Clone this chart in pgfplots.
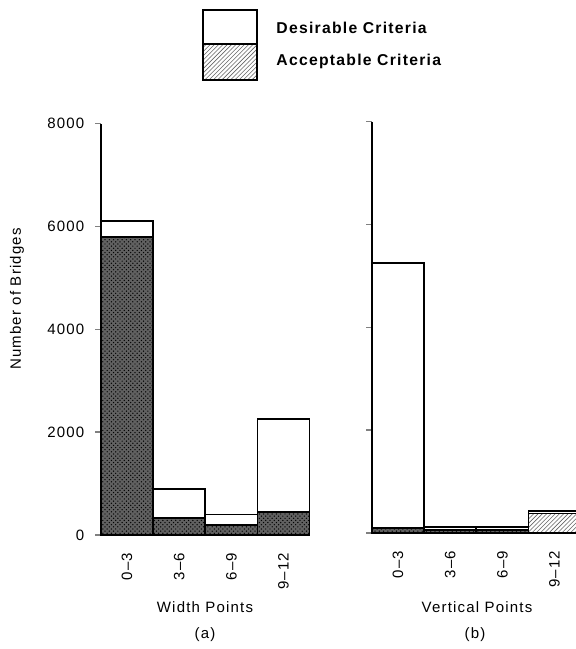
\documentclass[border=0pt]{standalone}
\usepackage{fontspec}
\setmainfont{Liberation Sans}[LetterSpace=8]
\usepackage{pgfplots}
\pgfplotsset{compat=1.18}
\usetikzlibrary{patterns}
\pgfplotsset{
  panel/.style={
    scale only axis, anchor=south west,
    width=146pt, height=288pt,
    xmin=0, xmax=4, ymin=0, ymax=8000,
    axis lines*=left,
    x axis line style={draw=none},
    axis line style={line width=1pt},
    ytick={0,2000,4000,6000,8000},
    tick align=outside,
    major tick length=4.2pt,
    ytick style={line width=0.9pt},
    xtick={0.5,1.5,2.5,3.5},
    xticklabels={0--3,3--6,6--9,9--12},
    x tick style={draw=none},
    xticklabel style={rotate=90, anchor=east, inner sep=0pt},
    xticklabel shift=8pt,
    tick label style={font=\fontsize{10.5}{12}\selectfont},
    /pgf/number format/assume math mode=true,
    /pgf/number format/1000 sep={},
    yticklabel style={xshift=-4pt},
    clip=false,
  },
  des/.style={ybar, bar width=1, bar shift=0pt, fill=white, draw=black, line width=1.2pt},
  accdark/.style={ybar, bar width=1, bar shift=0pt, fill=black!62, draw=black, line width=1.2pt,
     postaction={pattern=crosshatch dots, pattern color=black}},
  acchatch/.style={ybar, bar width=1, bar shift=0pt, fill=white, draw=black, line width=1.2pt,
     postaction={pattern=north east lines, pattern color=black!60}},
}
\begin{document}
\begin{tikzpicture}
\useasboundingbox (0,0) rectangle (402.5pt,454.3pt);
% panel (a)
\begin{axis}[panel, at={(70.7pt,79.8pt)}]
\addplot[des] coordinates {(0.5,6100) (1.5,900) (2.5,400) (3.5,2250)};
\addplot[accdark] coordinates {(0.5,5800) (1.5,330) (2.5,190) (3.5,450)};
\end{axis}
% panel (b)
\begin{axis}[panel, at={(260.4pt,81.2pt)}, yticklabels={}]
\addplot[des] coordinates {(0.5,5250) (1.5,120) (2.5,120) (3.5,430)};
\addplot[accdark] coordinates {(0.5,100) (1.5,60) (2.5,60)};
\addplot[acchatch] coordinates {(3.5,380)};
\end{axis}
% labels
\node[rotate=90, font=\fontsize{10.5}{12}\selectfont] at (11.9pt,245pt) {Number of Bridges};
\node[font=\fontsize{10.5}{12}\selectfont] at (143.5pt,29.4pt) {Width Points};
\node[font=\fontsize{10.5}{12}\selectfont] at (143.5pt,10pt) {(a)};
\node[font=\fontsize{10.5}{12}\selectfont] at (333.9pt,29pt) {Vertical Points};
\node[font=\fontsize{10.5}{12}\selectfont] at (332.5pt,10pt) {(b)};
% legend
\draw[line width=1.1pt, fill=white] (142.1pt,423.5pt) rectangle (179.9pt,447.3pt);
\draw[line width=1.1pt, pattern=north east lines, pattern color=black!60] (142.1pt,398.3pt) rectangle (179.9pt,423.5pt);
\node[anchor=west, font=\bfseries\fontsize{11}{13}\selectfont] at (190pt,434.7pt) {Desirable Criteria};
\node[anchor=west, font=\bfseries\fontsize{11}{13}\selectfont] at (190pt,411.6pt) {Acceptable Criteria};
\end{tikzpicture}
\end{document}
